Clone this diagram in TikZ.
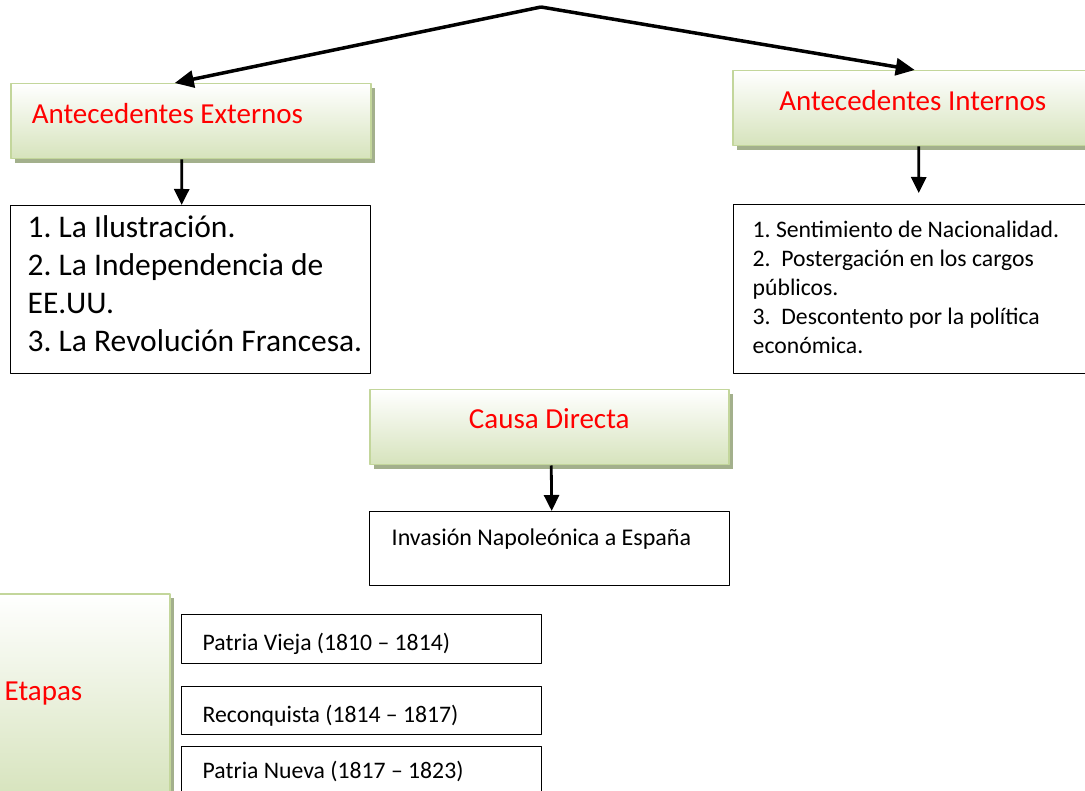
\documentclass[tikz,border=0pt]{standalone}
\usepackage{fontspec}
\setmainfont{Carlito}
\usetikzlibrary{arrows.meta,shadows}
\definecolor{boxgreen}{HTML}{D6E3BC}
\definecolor{edgegreen}{HTML}{C3D69B}
\definecolor{shadowgreen}{HTML}{A3B08C}
\tikzset{
  greenbox/.style={anchor=north west, draw=edgegreen, line width=1.5pt, top color=white, bottom color=boxgreen,
    text=red, font=\fontsize{29}{35}\selectfont, inner ysep=0pt, inner xsep=0pt, minimum width=360pt,
    drop shadow={shadow xshift=4pt, shadow yshift=-4pt, fill=shadowgreen, opacity=1}},
  indent/.style={execute at begin node={\frenchspacing\parindent=0pt\spaceskip=0pt\xspaceskip=0pt\leftskip=#1\relax}},
  whitebox/.style={anchor=north west, draw, line width=1.4pt, fill=white, inner ysep=0pt, inner xsep=5pt,
    text width=350pt, indent=#1, font=\fontsize{23.7}{29}\selectfont},
  link/.style={->, line width=2.8pt}
}
\begin{document}
\begin{tikzpicture}[x=1pt, y=-1pt, >={Triangle[length=16pt,width=15pt]}, line join=round]
\useasboundingbox (0,0) rectangle (1085,791);
\coordinate (apex) at (541,7);
% antecedentes
\node[greenbox, text width=360pt, indent=21pt, text height=40pt, text depth=35pt] (ext) at (10,83) {Antecedentes Externos};
\node[greenbox, text height=40pt, text depth=35pt] (inte) at (732,70) {Antecedentes Internos};
\node[whitebox=12pt, font=\fontsize{31.5}{38}\selectfont, text height=32pt, text depth=136pt] (listext) at (10,205)
  {1. La Ilustración.\\2. La Independencia de\\EE.UU.\\3. La Revolución Francesa.};
\node[whitebox=14pt, text height=33pt, text depth=136pt] (listint) at (733,204)
  {1. Sentimiento de Nacionalidad.\\2.\ \ Postergación en los cargos\\públicos.\\3.\ \ Descontento por la política\\económica.};
% causa directa
\node[greenbox, minimum width=359pt, text height=39pt, text depth=36pt] (causa) at (369,389) {Causa Directa};
\node[whitebox=17pt, font=\fontsize{24}{29}\selectfont, text height=34pt, text depth=40pt] (inv) at (369,511) {Invasión Napoleónica a España};
% etapas
\node[greenbox, minimum width=0pt, text width=180pt, indent=15pt, text height=107pt, text depth=100pt] (etapas) at (-11,593) {Etapas};
\node[whitebox=16pt, text height=36pt, text depth=13pt] (pv) at (181,614) {Patria Vieja (1810 – 1814)};
\node[whitebox=16pt, text height=36pt, text depth=12pt] (rec) at (181,686) {Reconquista (1814 – 1817)};
\node[whitebox=16pt, text height=32pt, text depth=30pt] (pn) at (181,746) {Patria Nueva (1817 – 1823)};
% flechas
\draw[link, line width=3.5pt, >={Triangle[length=19pt,width=17pt]}] (apex) -- ([xshift=-16pt]ext.north);
\draw[link, line width=3.5pt, >={Triangle[length=19pt,width=17pt]}] (apex) -- ([xshift=2pt]inte.north);
\draw[link] ([xshift=-9pt]ext.south) -- ([xshift=-9pt]listext.north);
\draw[link, shorten >=11pt] ([xshift=6pt]inte.south) -- ([xshift=5pt]listint.north);
\draw[link] ([xshift=2pt]causa.south) -- ([xshift=2pt]inv.north);
\end{tikzpicture}
\end{document}
